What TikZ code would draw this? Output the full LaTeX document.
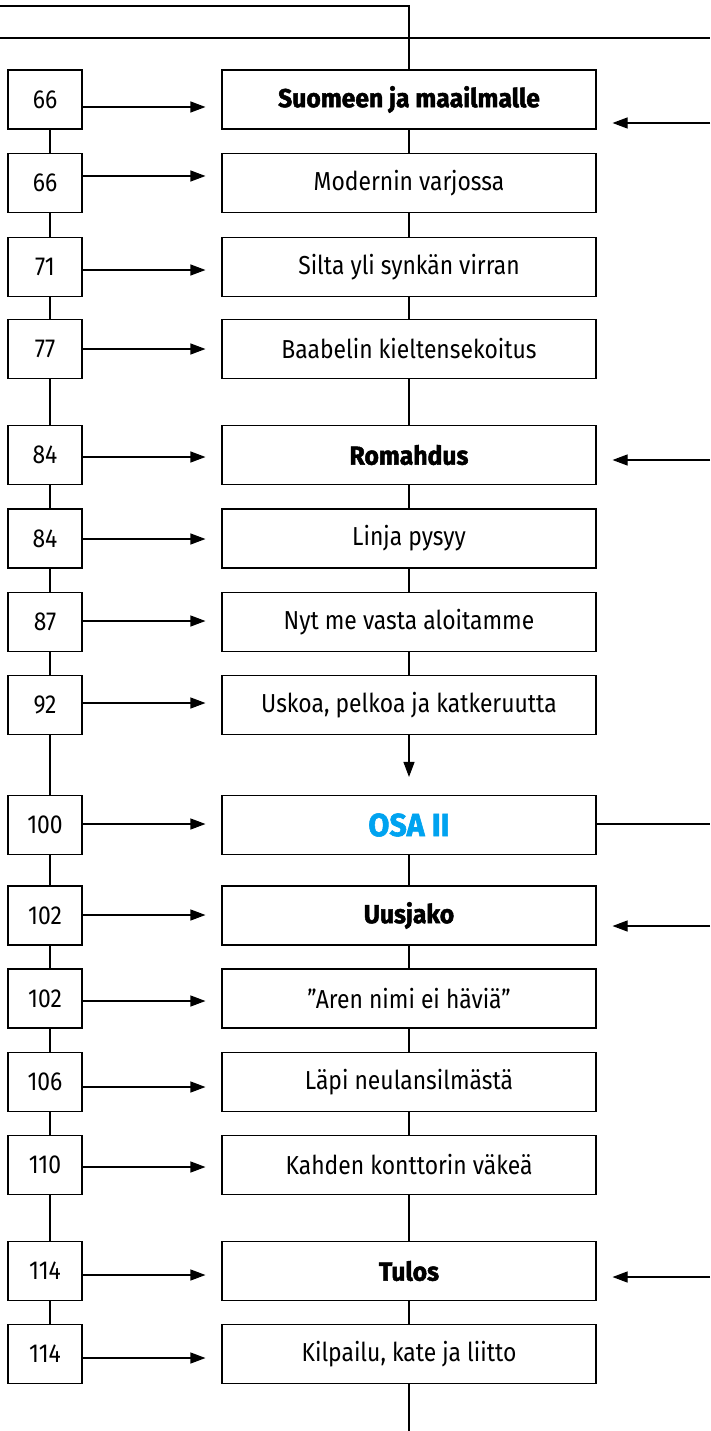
\documentclass[tikz,border=0pt]{standalone}
\usepackage{fontspec}
\setmainfont{Fira Sans}[FakeStretch=0.88, BoldFeatures={FakeBold=1.8, FakeStretch=0.95}]
\usetikzlibrary{arrows.meta}
\definecolor{osablue}{RGB}{0,163,240}
\begin{document}
\begin{tikzpicture}[x=1pt,y=-1pt,
  every path/.style={line width=1.1pt},
  big/.style={draw, fill=white, line width=1.1pt, minimum width=374pt, minimum height=59pt, inner sep=0pt, font=\fontsize{26}{30}\selectfont},
  sml/.style={draw, fill=white, line width=1.1pt, minimum width=74pt, minimum height=59pt, inner sep=0pt, font=\fontsize{26}{30}\selectfont},
  hd/.style={font=\fontsize{26}{30}\selectfont\bfseries},
  osa/.style={font=\fontsize{32}{36}\selectfont\bfseries, text=osablue},
  arr/.style={-{Triangle[length=15pt,width=11pt]}, line width=1.1pt}
]
\useasboundingbox (0,0) rectangle (710,1431);
% left number boxes
\node[sml] (l1) at (45,99.5) {66};
\node[sml] (l2) at (45,183) {66};
\node[sml] (l3) at (45,267) {71};
\node[sml] (l4) at (45,349) {77};
\node[sml] (l5) at (45,455) {84};
\node[sml] (l6) at (45,538.5) {84};
\node[sml] (l7) at (45,622) {87};
\node[sml] (l8) at (45,705) {92};
\node[sml] (l9) at (45,825) {100};
\node[sml] (l10) at (45,915.5) {102};
\node[sml] (l11) at (45,998.5) {102};
\node[sml] (l12) at (45,1082) {106};
\node[sml] (l13) at (45,1165) {110};
\node[sml] (l14) at (45,1271) {114};
\node[sml] (l15) at (45,1354) {114};
% chapter boxes
\node[big,hd] (b1) at (409,99.5) {Suomeen ja maailmalle};
\node[big] (b2) at (409,183) {Modernin varjossa};
\node[big] (b3) at (409,267) {Silta yli synkän virran};
\node[big] (b4) at (409,349) {Baabelin kieltensekoitus};
\node[big,hd] (b5) at (409,455) {Romahdus};
\node[big] (b6) at (409,538.5) {Linja pysyy};
\node[big] (b7) at (409,622) {Nyt me vasta aloitamme};
\node[big] (b8) at (409,705) {Uskoa, pelkoa ja katkeruutta};
\node[big,osa] (b9) at (409,825) {OSA II};
\node[big,hd] (b10) at (409,915.5) {Uusjako};
\node[big] (b11) at (409,998.5) {”Aren nimi ei häviä”};
\node[big] (b12) at (409,1082) {Läpi neulansilmästä};
\node[big] (b13) at (409,1165) {Kahden konttorin väkeä};
\node[big,hd] (b14) at (409,1271) {Tulos};
\node[big] (b15) at (409,1354) {Kilpailu, kate ja liitto};
% top lines
\coordinate (t0) at (0,6);
\coordinate (t1) at (409,6);
\coordinate (h0) at (0,38);
\coordinate (h1) at (710,38);
\draw (t0) -- (t1) -- (b1.north);
\draw (h0) -- (h1);
% left column connectors
\foreach \a/\b in {1/2,2/3,3/4,4/5,5/6,6/7,7/8,8/9,9/10,10/11,11/12,12/13,13/14,14/15}{
  \draw ([xshift=5pt]l\a.south) -- ([xshift=5pt]l\b.north);
}
% center column connectors
\foreach \a/\b in {1/2,2/3,3/4,4/5,5/6,6/7,7/8,9/10,10/11,11/12,12/13,13/14,14/15}{
  \draw (b\a.south) -- (b\b.north);
}
\draw[arr] (b8.south) -- ([yshift=18pt]b9.north);
\coordinate (bend) at (409,1431);
\draw (b15.south) -- (bend);
% left-to-right arrows
\foreach \i/\y in {1/107,2/176,3/270,4/349,5/457,6/539,7/621,8/703,9/824,10/915,11/1001,12/1087,13/1167,14/1275,15/1358}{
  \draw[arr] (l\i.east |- 0,\y) -- ([xshift=-16pt]b\i.west |- 0,\y);
}
% right incoming arrows
\foreach \i/\y in {1/123,5/460,10/926,14/1277}{
  \coordinate (r\i) at (710,\y);
  \draw[arr] (r\i) -- ([xshift=16pt]b\i.east |- 0,\y);
}
\coordinate (r9) at (710,824);
\draw (b9.east |- 0,824) -- (r9);
\end{tikzpicture}
\end{document}
